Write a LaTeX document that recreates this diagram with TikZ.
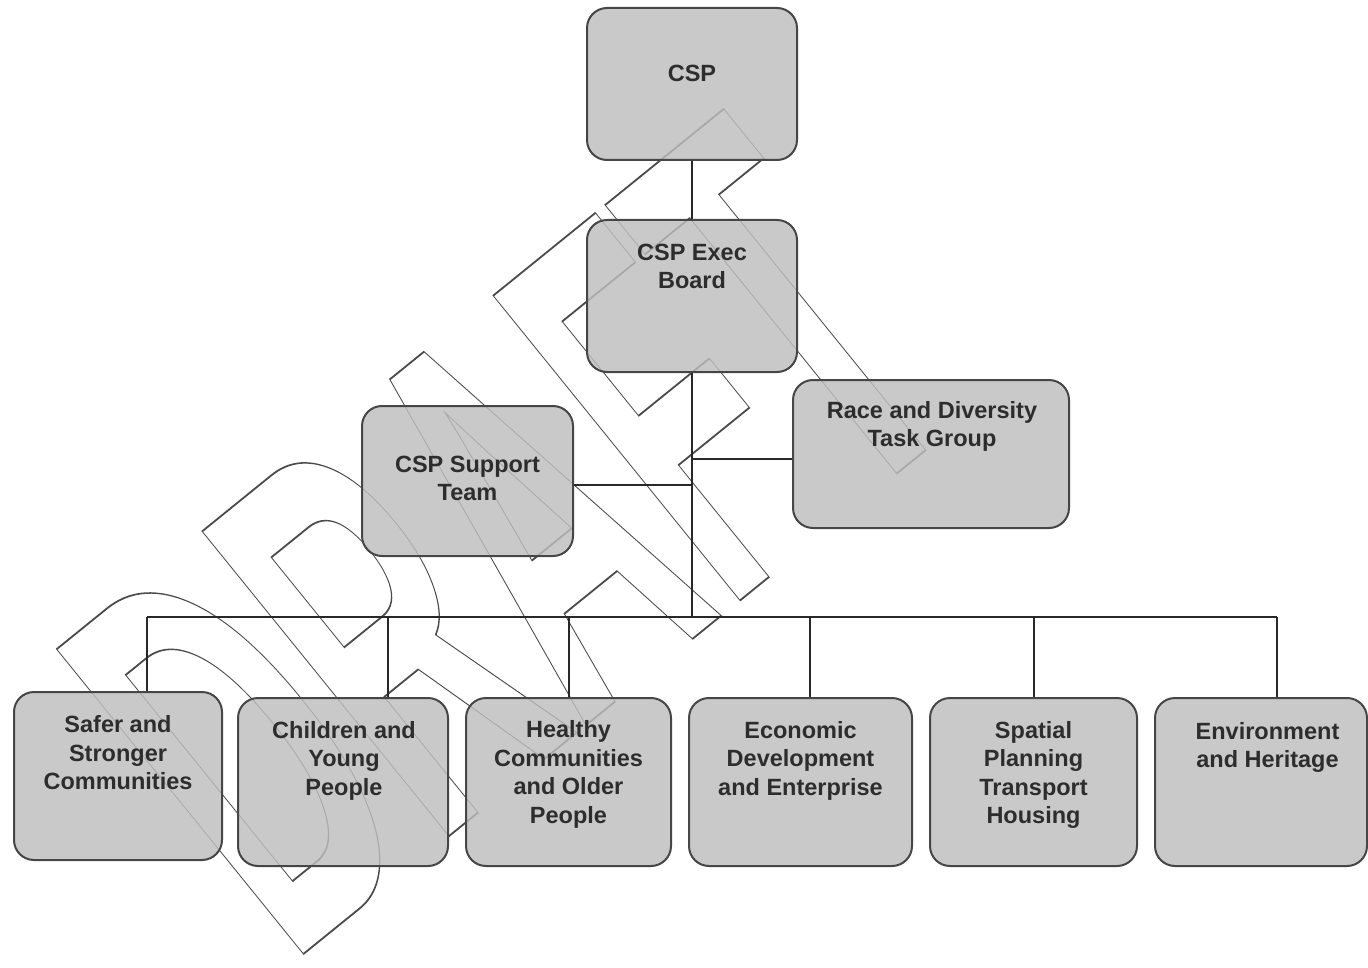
\documentclass[tikz,border=0pt]{standalone}
\usepackage{fontspec}
\setmainfont{Liberation Sans}
\usepackage{graphicx}
\definecolor{boxfill}{RGB}{190,190,190}
\definecolor{boxline}{RGB}{70,70,70}
\definecolor{txtc}{RGB}{45,45,45}
\definecolor{linec}{RGB}{40,40,40}
\definecolor{wmc}{RGB}{75,75,75}
\newcommand{\outlinetext}[1]{\special{pdf:code 1 Tr 1.8 w}#1\special{pdf:code 0 Tr}}
\begin{document}
\begin{tikzpicture}[x=1pt,y=-1pt,
  orgbox/.style={draw=boxline, line width=2pt, fill=boxfill, fill opacity=0.82, rounded corners=20pt, inner sep=0pt},
  lbl/.style={align=center, text=txtc, font=\fontsize{23.5}{28.5}\selectfont\bfseries, inner sep=0pt},
  conn/.style={draw=linec, line width=2.6pt}]
\fill[white] (0,0) rectangle (1368,968);
\useasboundingbox (0,0) rectangle (1368,968);
% watermark
\node[text=wmc, inner sep=0pt] (wm) at (508,536) {\rotatebox{39}{\scalebox{0.455}[1]{\fontsize{570}{570}\selectfont\bfseries\outlinetext{DRAFT}}}};
% boxes
\node[orgbox, minimum width=210pt, minimum height=152pt] (csp) at (692,84) {};
\node[orgbox, minimum width=210pt, minimum height=152pt] (exec) at (692,296) {};
\node[orgbox, minimum width=276pt, minimum height=148pt] (race) at (931,454) {};
\node[orgbox, minimum width=211pt, minimum height=150pt] (sup) at (467.5,481) {};
\node[orgbox, minimum width=208pt, minimum height=168pt] (safer) at (118,776) {};
\node[orgbox, minimum width=210pt, minimum height=168pt] (child) at (343,782) {};
\node[orgbox, minimum width=205pt, minimum height=168pt] (healthy) at (568.5,782) {};
\node[orgbox, minimum width=223pt, minimum height=168pt] (econ) at (800.5,782) {};
\node[orgbox, minimum width=207pt, minimum height=168pt] (spatial) at (1033.5,782) {};
\node[orgbox, minimum width=212pt, minimum height=168pt] (env) at (1261,782) {};
% labels
\node[lbl] (tcsp) at (692,73) {CSP};
\node[lbl] (texec) at (692,266.5) {CSP Exec\\Board};
\node[lbl] (trace) at (932,426.5) {Race and Diversity\\Task Group};
\node[lbl] (tsup) at (467.5,478.5) {CSP Support\\Team};
\node[lbl] (tsafer) at (118,753) {Safer and\\Stronger\\Communities};
\node[lbl] (tchild) at (344,760.5) {Children and\\Young\\People};
\node[lbl] (thealthy) at (568.5,774.5) {Healthy\\Communities\\and Older\\People};
\node[lbl] (tecon) at (800.5,760.5) {Economic\\Development\\and Enterprise};
\node[lbl] (tspatial) at (1033.5,775) {Spatial\\Planning\\Transport\\Housing};
\node[lbl] (tenv) at (1267.5,747.5) {Environment\\and Heritage};
% connectors
\coordinate (hub) at (692,617);
\coordinate (supj) at (692,485);
\coordinate (racej) at (692,459);
\coordinate (busL) at (147,617);
\coordinate (busR) at (1277,617);
\coordinate (d2) at (388,617);
\coordinate (d3) at (569,617);
\coordinate (d4) at (810,617);
\coordinate (d5) at (1034,617);
\draw[conn] (csp.south) -- (exec.north);
\draw[conn] (exec.south) -- (hub);
\draw[conn] (sup.east |- supj) -- (supj);
\draw[conn] (race.west |- racej) -- (racej);
\draw[conn] (busL) -- (busR);
\draw[conn] (busL) -- (busL |- safer.north);
\draw[conn] (d2) -- (d2 |- child.north);
\draw[conn] (d3) -- (d3 |- healthy.north);
\draw[conn] (d4) -- (d4 |- econ.north);
\draw[conn] (d5) -- (d5 |- spatial.north);
\draw[conn] (busR) -- (busR |- env.north);
\end{tikzpicture}
\end{document}
